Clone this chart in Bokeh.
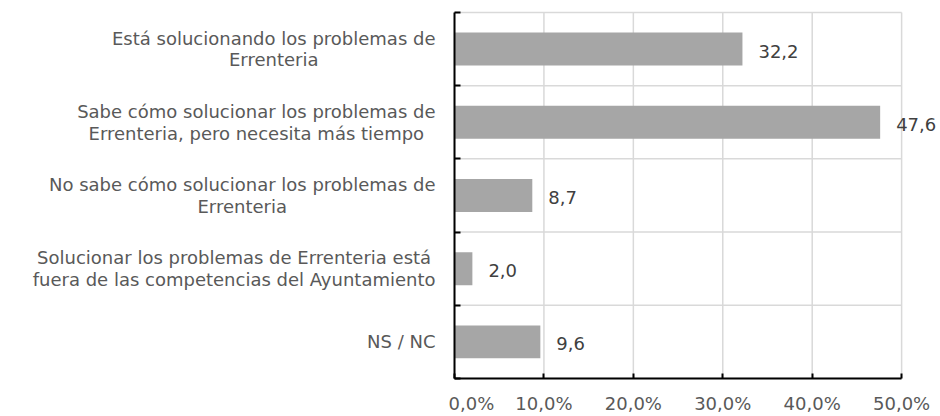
from bokeh.plotting import figure
from bokeh.layouts import row
from bokeh.models import LinearAxis, FixedTicker, Range1d, LabelSet, ColumnDataSource
from bokeh.core.properties import value
from bokeh.embed import file_html
from bokeh.resources import INLINE

categories = [
    "Está solucionando los problemas de\nErrenteria",
    "Sabe cómo solucionar los problemas de\nErrenteria, pero necesita más tiempo",
    "No sabe cómo solucionar los problemas de\nErrenteria",
    "Solucionar los problemas de Errenteria está\nfuera de las competencias del Ayuntamiento",
    "NS / NC",
]
values = [32.2, 47.6, 8.7, 2.0, 9.6]
x_ticks = [0, 10, 20, 30, 40, 50]
tick_labels = ["0,0%", "10,0%", "20,0%", "30,0%", "40,0%", "50,0%"]

n = len(categories)
centers = [i + 0.5 for i in range(n)]
boundaries = list(range(n + 1))

FONT = "DejaVu Sans"
FS = "18px"
BAR = "#A6A6A6"
TXT = "#595959"
GRID = "#D9D9D9"

H = 416
TOP = 9
BOTTOM = 35

src = ColumnDataSource(dict(
    y=centers,
    v=values,
    lab=[f"{v:.1f}".replace(".", ",") for v in values],
    cat=categories,
    edge=[1.0] * n,
))

yr = Range1d(n, -0.04)

# ---- left figure: category labels ----
lf = figure(width=448, height=H, x_range=Range1d(0, 1), y_range=yr,
            output_backend="svg", toolbar_location=None,
            x_axis_location=None, y_axis_location=None,
            min_border_left=0, min_border_right=0, min_border_top=TOP, min_border_bottom=BOTTOM)
lf.outline_line_color = None
lf.grid.visible = False
lf.text(x="edge", y="y", text="cat", source=src, x_offset=-13,
        anchor="center_right", text_align="center", text_baseline="middle",
        text_font=value(FONT), text_font_size=value(FS), text_color=TXT,
        text_line_height=1.03)

# ---- main figure: bars ----
p = figure(width=488, height=H, x_range=Range1d(0, 53.9), y_range=yr,
           output_backend="svg", toolbar_location=None,
           x_axis_location="below", y_axis_location=None,
           min_border_left=6, min_border_right=0, min_border_top=TOP, min_border_bottom=BOTTOM)
p.outline_line_color = None
p.grid.visible = False

# grid lines (limited to the 0-50 area)
p.segment(x0=x_ticks[0], x1=x_ticks[-1], y0=boundaries, y1=boundaries,
          line_color=GRID, line_width=1.5)
p.segment(x0=x_ticks, x1=x_ticks, y0=boundaries[0], y1=boundaries[-1],
          line_color=GRID, line_width=1.5)

p.hbar(y="y", right="v", left=0, height=0.45, source=src, fill_color=BAR, line_color=None)

labels = LabelSet(x="v", y="y", text="lab", source=src, x_offset=16, y_offset=-2,
                  text_baseline="middle", text_font=value(FONT),
                  text_font_size=value(FS), text_color="#404040")
p.add_layout(labels)

# x axis
xa = p.xaxis[0]
xa.ticker = FixedTicker(ticks=x_ticks)
xa.bounds = (x_ticks[0], x_ticks[-1])
xa.major_label_overrides = {t: l for t, l in zip(x_ticks, tick_labels)}
xa.major_tick_in = 5
xa.major_tick_out = 0
xa.minor_tick_line_color = None
xa.axis_line_color = "black"
xa.axis_line_width = 2
xa.major_tick_line_color = "black"
xa.major_tick_line_width = 2
xa.major_label_standoff = 14
xa.major_label_text_font = FONT
xa.major_label_text_font_size = FS
xa.major_label_text_color = TXT

# y axis: line with inner ticks at category boundaries
ya = LinearAxis(ticker=FixedTicker(ticks=[], minor_ticks=boundaries),
                bounds=(boundaries[0], boundaries[-1]),
                axis_line_color="black", axis_line_width=2,
                major_tick_line_color=None,
                minor_tick_line_color="black", minor_tick_line_width=2,
                minor_tick_in=6, minor_tick_out=0, major_label_standoff=0)
p.add_layout(ya, "left")

layout = row(lf, p)
open("out.html", "w").write(file_html(layout, INLINE))
